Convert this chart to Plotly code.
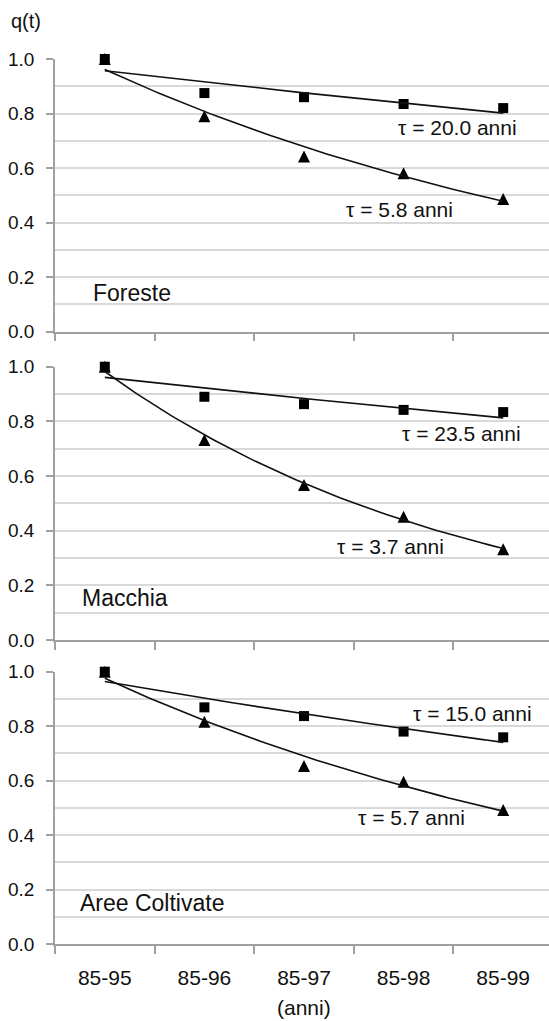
import numpy as np
import plotly.graph_objects as go

categories = ["85-95", "85-96", "85-97", "85-98", "85-99"]

foreste_sq = [1.0, 0.875, 0.860, 0.835, 0.820]
foreste_tr = [1.0, 0.790, 0.642, 0.581, 0.487]
macchia_sq = [1.0, 0.890, 0.863, 0.842, 0.834]
macchia_tr = [1.0, 0.732, 0.567, 0.451, 0.332]
coltiv_sq = [1.0, 0.869, 0.837, 0.780, 0.759]
coltiv_tr = [1.0, 0.816, 0.654, 0.596, 0.492]

panel_names = ["Foreste", "Macchia", "Aree Coltivate"]
tau_sq_labels = ["τ = 20.0 anni", "τ = 23.5 anni", "τ = 15.0 anni"]
tau_tr_labels = ["τ = 5.8 anni", "τ = 3.7 anni", "τ = 5.7 anni"]

# label positions (category index, value)
tau_sq_pos = [(3.54, 0.749), (3.58, 0.757), (3.69, 0.848)]
tau_tr_pos = [(2.96, 0.447), (2.87, 0.341), (3.08, 0.463)]
name_pos = [(-0.14, 0.141), (-0.246, 0.154), (-0.274, 0.151)]

FONT = "Liberation Sans, Arial, sans-serif"
TXT = "#111111"
GRID = "#d9d9d9"
AX = "#a0a0a0"

series = [(foreste_sq, foreste_tr), (macchia_sq, macchia_tr), (coltiv_sq, coltiv_tr)]
domains = [[0.6919, 1.0], [0.3435, 0.6523], [0.0, 0.3077]]

xi = np.arange(len(categories))
xf = np.linspace(0, len(categories) - 1, 80)

fig = go.Figure()
annotations = []
for p, (sq, tr) in enumerate(series):
    xa = "x" if p == 0 else f"x{p+1}"
    ya = "y" if p == 0 else f"y{p+1}"
    # triangles
    fig.add_trace(go.Scatter(x=xi, y=tr, mode="markers", xaxis=xa, yaxis=ya, cliponaxis=False,
                             marker=dict(symbol="arrow-down", angle=180, standoff=6,
                                         size=12, color="black", line=dict(width=0)),
                             showlegend=False, hoverinfo="skip"))
    fig.add_trace(go.Scatter(x=xi, y=sq, mode="markers", xaxis=xa, yaxis=ya, cliponaxis=False,
                             marker=dict(symbol="square", size=10, color="black", line=dict(width=0)),
                             showlegend=False, hoverinfo="skip"))
    for vals in (sq, tr):
        b, a = np.polyfit(xi, np.log(vals), 1)
        fig.add_trace(go.Scatter(x=xf, y=np.exp(a + b * xf), mode="lines", xaxis=xa, yaxis=ya,
                                 line=dict(color="#111111", width=1.6),
                                 showlegend=False, hoverinfo="skip"))
    annotations.append(dict(x=tau_sq_pos[p][0], y=tau_sq_pos[p][1], xref=xa, yref=ya,
                            text=tau_sq_labels[p], showarrow=False, xanchor="center", yanchor="middle",
                            font=dict(family=FONT, size=21, color=TXT)))
    annotations.append(dict(x=tau_tr_pos[p][0], y=tau_tr_pos[p][1], xref=xa, yref=ya,
                            text=tau_tr_labels[p], showarrow=False, xanchor="center", yanchor="middle",
                            font=dict(family=FONT, size=21, color=TXT)))
    annotations.append(dict(x=name_pos[p][0], y=name_pos[p][1], xref=xa, yref=ya,
                            text=panel_names[p], showarrow=False, xanchor="left", yanchor="middle",
                            font=dict(family=FONT, size=23, color=TXT)))

annotations.append(dict(x=-0.0597, y=1.0429, xref="paper", yref="paper", text="q(t)",
                        showarrow=False, xanchor="center", yanchor="middle",
                        font=dict(family=FONT, size=20, color=TXT)))
annotations.append(dict(x=2, y=-0.0723, xref="x3", yref="paper", text="(anni)",
                        showarrow=False, xanchor="center", yanchor="middle",
                        font=dict(family=FONT, size=21, color=TXT)))

layout = dict(width=549, height=1021, paper_bgcolor="white", plot_bgcolor="white",
              margin=dict(l=55, r=0, t=59, b=77), annotations=annotations,
              font=dict(family=FONT, color=TXT))
bounds = [i - 0.5 for i in range(len(categories) + 1)]
for p in range(3):
    xk = "xaxis" if p == 0 else f"xaxis{p+1}"
    yk = "yaxis" if p == 0 else f"yaxis{p+1}"
    ya = "y" if p == 0 else f"y{p+1}"
    xa = "x" if p == 0 else f"x{p+1}"
    layout[xk] = dict(domain=[0, 1], anchor=ya, range=[-0.5, 4.46],
                      tickmode="array", tickvals=list(xi), ticktext=categories,
                      showticklabels=(p == 2), ticks="", showgrid=False, zeroline=False,
                      showline=True, linecolor=AX, linewidth=1.5,
                      tickfont=dict(family=FONT, size=21, color=TXT),
                      ticklabelstandoff=14,
                      minor=dict(tickmode="array", tickvals=bounds, ticks="outside",
                                 ticklen=8, tickcolor=AX, tickwidth=1.5, showgrid=False))
    if p > 0:
        layout[xk]["matches"] = "x"
    layout[yk] = dict(domain=domains[p], anchor=xa, range=[0, 1.0],
                      tickmode="linear", tick0=0, dtick=0.2, tickformat=".1f",
                      ticks="outside", ticklen=7, tickcolor=AX, tickwidth=1.5,
                      showgrid=True, gridcolor=GRID, gridwidth=1.5, zeroline=False,
                      showline=True, linecolor=AX, linewidth=1.5,
                      tickfont=dict(family=FONT, size=19, color=TXT),
                      ticklabelstandoff=8,
                      minor=dict(dtick=0.1, tick0=0, showgrid=True, gridcolor=GRID, gridwidth=1.5, ticks=""))

fig.update_layout(**layout)
fig.write_html("out.html", config={"displayModeBar": False},
               post_script="document.body.style.margin='0';document.body.style.overflow='hidden';")
